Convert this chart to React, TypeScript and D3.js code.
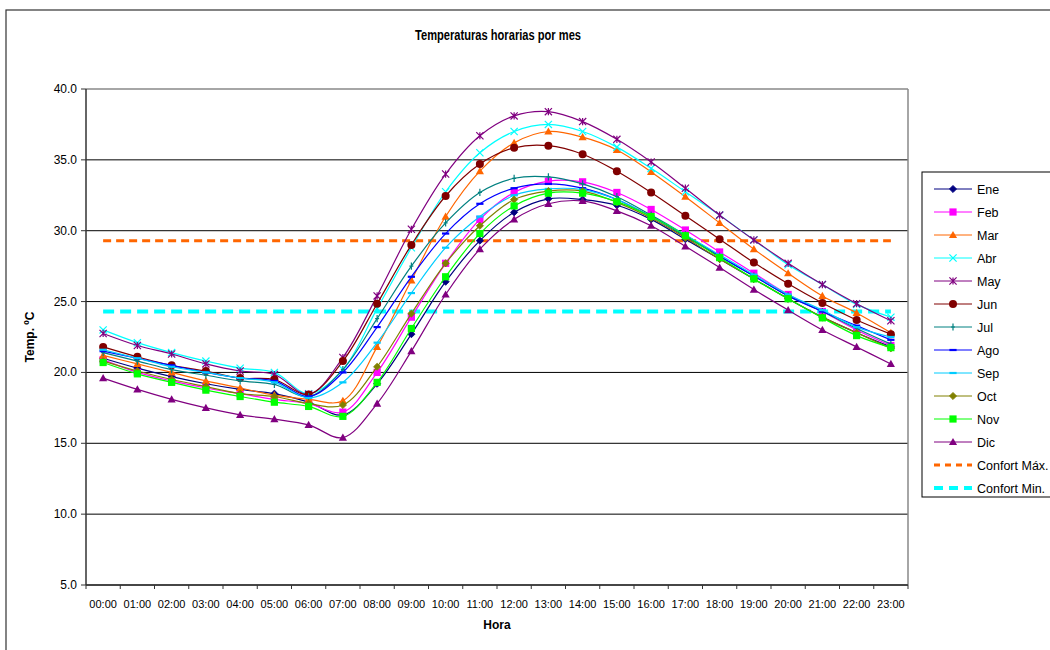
import React from "react";
import * as d3 from "d3";

const hours = ["00:00","01:00","02:00","03:00","04:00","05:00","06:00","07:00","08:00","09:00","10:00","11:00","12:00","13:00","14:00","15:00","16:00","17:00","18:00","19:00","20:00","21:00","22:00","23:00"];
const yTicks = [5, 10, 15, 20, 25, 30, 35, 40];

const ene = [21.0,20.3,19.7,19.2,18.8,18.5,17.9,17.0,19.2,22.7,26.4,29.3,31.3,32.25,32.2,31.8,30.8,29.4,28.0,26.6,25.2,23.9,22.8,21.8];
const feb = [20.9,20.0,19.4,18.9,18.5,18.1,17.8,17.2,20.0,23.9,27.7,30.8,32.7,33.5,33.45,32.7,31.5,30.05,28.5,27.0,25.5,24.3,23.0,21.9];
const mar = [21.2,20.6,20.0,19.4,18.9,18.4,18.1,18.0,21.8,26.5,31.0,34.2,36.2,37.0,36.6,35.7,34.15,32.4,30.55,28.7,27.0,25.4,24.2,22.8];
const abr = [23.0,22.1,21.4,20.8,20.3,20.0,18.5,20.2,24.5,28.8,32.75,35.5,37.0,37.5,37.0,35.9,34.4,32.75,31.1,29.35,27.6,26.2,24.8,23.9];
const may = [22.75,21.9,21.3,20.6,20.1,19.85,18.45,21.05,25.4,30.1,34.0,36.7,38.1,38.4,37.7,36.45,34.85,33.0,31.1,29.35,27.7,26.2,24.85,23.65];
const jun = [21.8,21.1,20.5,20.1,19.6,19.5,18.45,20.8,24.85,29.0,32.45,34.7,35.85,36.0,35.4,34.2,32.7,31.05,29.4,27.75,26.25,24.9,23.7,22.7];
const jul = [21.4,20.8,20.2,19.8,19.4,19.15,18.3,20.2,23.8,27.5,30.55,32.7,33.7,33.8,33.3,32.4,31.1,29.7,28.2,26.8,25.4,24.3,23.1,22.0];
const ago = [21.5,21.0,20.5,20.0,19.6,19.4,18.3,20.0,23.2,26.75,29.8,31.9,33.0,33.3,33.0,32.2,31.0,29.6,28.2,26.8,25.4,24.3,23.3,22.3];
const sep = [21.6,21.0,20.4,20.0,19.6,19.3,18.2,19.3,22.1,25.6,28.8,31.0,32.5,32.95,32.9,32.2,31.0,29.7,28.3,26.9,25.5,24.4,23.2,22.5];
const oct = [20.8,20.1,19.5,19.0,18.5,18.3,17.8,17.7,20.4,24.15,27.7,30.35,32.2,32.8,32.8,32.0,30.9,29.5,28.0,26.6,25.2,23.9,22.8,21.7];
const nov = [20.7,19.9,19.3,18.75,18.3,17.9,17.6,16.9,19.3,23.1,26.75,29.8,31.75,32.65,32.65,32.05,31.0,29.65,28.1,26.6,25.2,23.85,22.6,21.75];
const dic = [19.6,18.8,18.1,17.5,17.0,16.7,16.3,15.4,17.8,21.5,25.5,28.7,30.8,31.9,32.1,31.4,30.35,28.9,27.4,25.85,24.4,23.0,21.8,20.6];
const confortMax = 29.3;
const confortMin = 24.3;

const monthNames = ["Ene","Feb","Mar","Abr","May","Jun","Jul","Ago","Sep","Oct","Nov","Dic"];
const monthValues = [ene, feb, mar, abr, may, jun, jul, ago, sep, oct, nov, dic];
const monthColors = ["#000080","#FF00FF","#FF6600","#00FFFF","#800080","#800000","#008080","#0000FF","#00CCFF","#808000","#00FF00","#800080"];
const monthMarkers = ["diamond","square","triangle","x","star","circle","plus","dash","dash","diamond","square","triangle"];

const FONT = "'Liberation Sans', Arial, sans-serif";

function Marker({ type, x, y, color }: { type: string; x: number; y: number; color: string }) {
  const s = 3.6;
  switch (type) {
    case "diamond":
      return <path d={`M${x},${y - s}L${x + s},${y}L${x},${y + s}L${x - s},${y}Z`} fill={color} stroke={color} strokeWidth={0.8} />;
    case "square":
      return <rect x={x - s} y={y - s} width={2 * s} height={2 * s} fill={color} />;
    case "triangle":
      return <path d={`M${x},${y - s - 0.5}L${x + s + 0.5},${y + s - 0.5}L${x - s - 0.5},${y + s - 0.5}Z`} fill={color} />;
    case "circle":
      return <circle cx={x} cy={y} r={s + 0.4} fill={color} />;
    case "x":
      return <path d={`M${x - s},${y - s}L${x + s},${y + s}M${x - s},${y + s}L${x + s},${y - s}`} stroke={color} strokeWidth={1.2} />;
    case "star":
      return <path d={`M${x - s},${y - s}L${x + s},${y + s}M${x - s},${y + s}L${x + s},${y - s}M${x},${y - s}L${x},${y + s}`} stroke={color} strokeWidth={1.2} />;
    case "plus":
      return <path d={`M${x},${y - s}L${x},${y + s}M${x - 2},${y}L${x + 2},${y}`} stroke={color} strokeWidth={1.2} />;
    case "dash":
      return <path d={`M${x - s},${y}L${x + s},${y}`} stroke={color} strokeWidth={2.2} />;
    default:
      return null;
  }
}

export default function App() {
  const W = 1050, H = 650;
  const left = 86, right = 908, top = 89, bottom = 585;
  const x = d3.scaleBand<string>().domain(hours).range([left, right]).padding(0);
  const cx = (h: string) => (x(h) as number) + x.bandwidth() / 2;
  const y = d3.scaleLinear().domain([5, 40]).range([bottom, top]);
  const line = d3
    .line<number>()
    .x((_, i) => cx(hours[i]))
    .y((v) => y(v))
    .curve(d3.curveCatmullRom.alpha(0.5));

  const legendX = 922, legendY = 172, rowH = 23;
  const legendItems = [
    ...monthNames.map((n, i) => ({ name: n, color: monthColors[i], marker: monthMarkers[i], dash: false, width: 1 })),
    { name: "Confort Máx.", color: "#FF6600", marker: "", dash: true, width: 3 },
    { name: "Confort Min.", color: "#00FFFF", marker: "", dash: true, width: 4 },
  ];

  return (
    <svg width={W} height={H} style={{ position: "absolute", left: 0, top: 0, background: "#fff" }} fontFamily={FONT}>
      <rect x={6} y={10} width={1100} height={700} fill="#fff" stroke="#333" strokeWidth={1.2} />
      <text x={498} y={40} textAnchor="middle" fontSize={14} fontWeight="bold" textLength={166} lengthAdjust="spacingAndGlyphs">Temperaturas horarias por mes</text>

      {/* gridlines */}
      {yTicks.map((t) => (
        <line key={t} x1={left} x2={right} y1={y(t)} y2={y(t)} stroke={t === 40 ? "#888" : "#000"} strokeWidth={t === 40 ? 1.5 : 1} />
      ))}
      <line x1={right} x2={right} y1={top} y2={bottom} stroke="#888" strokeWidth={1.5} />

      {/* axes */}
      <line x1={left} x2={left} y1={top} y2={bottom} stroke="#333" strokeWidth={1.5} />
      <line x1={left} x2={right} y1={bottom} y2={bottom} stroke="#333" strokeWidth={1.5} />
      {yTicks.map((t) => (
        <g key={t}>
          <line x1={left - 5} x2={left} y1={y(t)} y2={y(t)} stroke="#333" />
          <text x={left - 9} y={y(t) + 4} textAnchor="end" fontSize={12}>{t.toFixed(1)}</text>
        </g>
      ))}
      {hours.map((h) => (
        <g key={h}>
          <line x1={x(h) as number} x2={x(h) as number} y1={bottom} y2={bottom + 4} stroke="#333" />
          <text x={cx(h)} y={bottom + 23} textAnchor="middle" fontSize={11}>{h}</text>
        </g>
      ))}
      <line x1={right} x2={right} y1={bottom} y2={bottom + 4} stroke="#333" />
      <text x={497} y={629} textAnchor="middle" fontSize={12} fontWeight="bold">Hora</text>
      <text transform={`translate(34,${(top + bottom) / 2}) rotate(-90)`} textAnchor="middle" fontSize={12} fontWeight="bold">Temp. ºC</text>

      {/* comfort lines */}
      <line x1={cx(hours[0])} x2={cx(hours[23])} y1={y(confortMax)} y2={y(confortMax)} stroke="#FF6600" strokeWidth={3} strokeDasharray="8,5" />
      <line x1={cx(hours[0])} x2={cx(hours[23])} y1={y(confortMin)} y2={y(confortMin)} stroke="#00FFFF" strokeWidth={4} strokeDasharray="11,6" />

      {/* series */}
      {monthValues.map((vals, k) => (
        <g key={monthNames[k]}>
          <path d={line(vals) || ""} fill="none" stroke={monthColors[k]} strokeWidth={1.2} />
          {vals.map((v, i) => (
            <Marker key={i} type={monthMarkers[k]} x={cx(hours[i])} y={y(v)} color={monthColors[k]} />
          ))}
        </g>
      ))}

      {/* legend */}
      <rect x={legendX} y={legendY} width={200} height={325} fill="#fff" stroke="#000" strokeWidth={1} />
      {legendItems.map((it, i) => {
        const ly = legendY + 17 + i * rowH;
        return (
          <g key={it.name}>
            <line x1={934} x2={972} y1={ly} y2={ly} stroke={it.color} strokeWidth={it.width} strokeDasharray={it.dash ? (it.width > 3 ? "9,6" : "6,5") : undefined} />
            {it.marker && <Marker type={it.marker} x={953} y={ly} color={it.color} />}
            <text x={977} y={ly + 4.5} fontSize={12.5}>{it.name}</text>
          </g>
        );
      })}
    </svg>
  );
}
